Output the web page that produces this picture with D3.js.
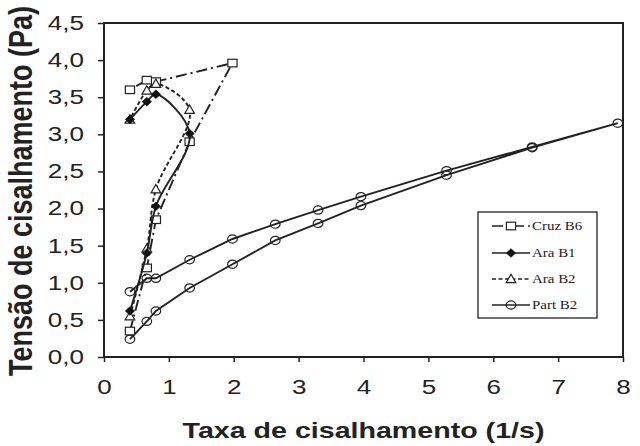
<!DOCTYPE html>
<html>
<head>
<meta charset="utf-8">
<script src="https://cdn.jsdelivr.net/npm/d3@7"></script>
<style>
  body { margin: 0; background: #fff; }
  svg { display: block; }
</style>
</head>
<body>
<script>
// Values (shear rate 1/s, shear stress Pa)
const cruzB6X = [0.40, 0.66, 0.80, 1.32, 1.98, 0.80, 0.66, 0.40];
const cruzB6Y = [0.35, 1.20, 1.85, 2.90, 3.96, 3.71, 3.73, 3.60];

const araB1X = [0.40, 0.66, 0.80, 1.32, 0.80, 0.66, 0.40];
const araB1Y = [0.62, 1.40, 2.03, 3.01, 3.54, 3.44, 3.20];

const araB2X = [0.40, 0.66, 0.80, 1.32, 0.80, 0.66, 0.40];
const araB2Y = [0.55, 1.46, 2.26, 3.33, 3.68, 3.59, 3.20];

const partB2X = [0.40, 0.66, 0.80, 1.32, 1.98, 2.64, 3.30, 3.96, 5.28, 6.60, 7.92,
                 6.60, 5.28, 3.96, 3.30, 2.64, 1.98, 1.32, 0.80, 0.66, 0.40];
const partB2Y = [0.24, 0.48, 0.62, 0.93, 1.25, 1.57, 1.80, 2.04, 2.45, 2.82, 3.15,
                 2.83, 2.51, 2.16, 1.98, 1.79, 1.59, 1.31, 1.06, 1.06, 0.88];

const seriesNames = ['Cruz B6', 'Ara B1', 'Ara B2', 'Part B2'];
const xTicks = [0, 1, 2, 3, 4, 5, 6, 7, 8];
const yTicks = [0, 0.5, 1, 1.5, 2, 2.5, 3, 3.5, 4, 4.5];
const xTitle = 'Taxa de cisalhamento (1/s)';
const yTitle = 'Tensão de cisalhamento (Pa)';

// Set up canvas
const width = 640, height = 446;
const plot = {left: 104, right: 623, top: 23, bottom: 357};
const ink = '#222';
const widenBy = 1.3; // the source picture is stretched sideways

const svg = d3.select('body')
  .append('svg')
  .attr('width', width)
  .attr('height', height);

// Set up scales
const xScale = d3.scaleLinear().domain([0, 8]).range([plot.left, plot.right]);
const yScale = d3.scaleLinear().domain([0, 4.5]).range([plot.bottom, plot.top]);

function widen(sel) {
  sel.each(function() {
    const w = this.getComputedTextLength();
    d3.select(this)
      .attr('textLength', w * widenBy)
      .attr('lengthAdjust', 'spacingAndGlyphs');
  });
}

// Draw axes
const xAxis = d3.axisBottom(xScale)
  .tickValues(xTicks)
  .tickSize(5)
  .tickFormat(d3.format('d'));

const gx = svg.append('g')
  .attr('transform', `translate(0, ${plot.bottom})`)
  .call(xAxis);
gx.select('.domain').remove();
gx.selectAll('line').attr('stroke', ink).attr('stroke-width', 1.5);
gx.selectAll('text')
  .attr('y', 23)
  .attr('fill', ink)
  .style('font', '20px "Liberation Sans", Arial, sans-serif')
  .call(widen);

const yAxis = d3.axisLeft(yScale)
  .tickValues(yTicks)
  .tickSize(6)
  .tickPadding(14)
  .tickFormat(d => d.toFixed(1).replace('.', ','));

const gy = svg.append('g')
  .attr('transform', `translate(${plot.left}, 0)`)
  .call(yAxis);
gy.select('.domain').remove();
gy.selectAll('line').attr('stroke', ink).attr('stroke-width', 1.5);
gy.selectAll('text')
  .attr('fill', ink)
  .style('font', '20px "Liberation Sans", Arial, sans-serif')
  .call(widen);

// Plot frame
svg.append('rect')
  .attr('x', plot.left)
  .attr('y', plot.top)
  .attr('width', plot.right - plot.left)
  .attr('height', plot.bottom - plot.top)
  .attr('fill', 'none')
  .attr('stroke', ink)
  .attr('stroke-width', 2);

// Markers
const markers = {
  square: g => g.append('rect').attr('x', -4.6).attr('y', -3.8).attr('width', 9.2).attr('height', 7.6)
    .attr('fill', '#fff').attr('stroke', ink).attr('stroke-width', 1.2),
  diamond: g => g.append('path').attr('d', 'M0,-4.2L4.6,0L0,4.2L-4.6,0Z')
    .attr('fill', '#111').attr('stroke', '#111').attr('stroke-width', 0.8),
  triangle: g => g.append('path').attr('d', 'M0,-4.8L4.8,3.6L-4.8,3.6Z')
    .attr('fill', '#fff').attr('stroke', ink).attr('stroke-width', 1.2),
  circle: g => g.append('ellipse').attr('rx', 4.8).attr('ry', 4.1)
    .attr('fill', 'none').attr('stroke', ink).attr('stroke-width', 1.2)
};

const series = [
  {name: seriesNames[0], xs: cruzB6X, ys: cruzB6Y, dash: '11,4,2,4', marker: 'square', curve: d3.curveLinear},
  {name: seriesNames[1], xs: araB1X, ys: araB1Y, dash: null, marker: 'diamond', curve: d3.curveCatmullRom},
  {name: seriesNames[2], xs: araB2X, ys: araB2Y, dash: '4,2.5', marker: 'triangle', curve: d3.curveCatmullRom},
  {name: seriesNames[3], xs: partB2X, ys: partB2Y, dash: null, marker: 'circle', curve: d3.curveLinear}
];

// Draw lines, back to front
const drawOrder = [3, 0, 2, 1];
drawOrder.forEach(i => {
  const s = series[i];
  const pts = s.xs.map((x, j) => [x, s.ys[j]]);
  const line = d3.line()
    .x(d => xScale(d[0]))
    .y(d => yScale(d[1]))
    .curve(s.curve);

  svg.append('path')
    .datum(pts)
    .attr('fill', 'none')
    .attr('stroke', ink)
    .attr('stroke-width', 1.9)
    .attr('stroke-dasharray', s.dash)
    .attr('d', line);

  svg.selectAll(null)
    .data(pts)
    .enter()
    .append('g')
    .attr('transform', d => `translate(${xScale(d[0])}, ${yScale(d[1])})`)
    .each(function() { markers[s.marker](d3.select(this)); });
});

// Add legend
const legend = svg.append('g');
legend.append('rect')
  .attr('x', 478)
  .attr('y', 212)
  .attr('width', 119)
  .attr('height', 106)
  .attr('fill', '#fff')
  .attr('stroke', ink)
  .attr('stroke-width', 1.3);

const rowY = [226, 253, 279, 305];
series.forEach((s, i) => {
  const row = legend.append('g').attr('transform', `translate(0, ${rowY[i]})`);
  row.append('line')
    .attr('x1', 492)
    .attr('x2', 530)
    .attr('stroke', ink)
    .attr('stroke-width', 1.6)
    .attr('stroke-dasharray', s.dash);
  const m = row.append('g').attr('transform', 'translate(511, 0)');
  markers[s.marker](m);
  row.append('text')
    .attr('x', 532)
    .attr('y', 4)
    .attr('fill', ink)
    .style('font', '11.5px "Liberation Serif", "Times New Roman", serif')
    .text(s.name)
    .call(widen);
});

// Axis titles
svg.append('text')
  .attr('x', (plot.left + plot.right) / 2)
  .attr('y', 438)
  .attr('text-anchor', 'middle')
  .attr('fill', ink)
  .style('font', 'bold 22px "Liberation Sans", Arial, sans-serif')
  .text(xTitle)
  .call(widen);

svg.append('text')
  .attr('transform', `translate(32, 191) scale(1.2, 1) rotate(-90)`)
  .attr('text-anchor', 'middle')
  .attr('fill', ink)
  .style('font', 'bold 27px "Liberation Sans", Arial, sans-serif')
  .text(yTitle);
</script>
</body>
</html>
